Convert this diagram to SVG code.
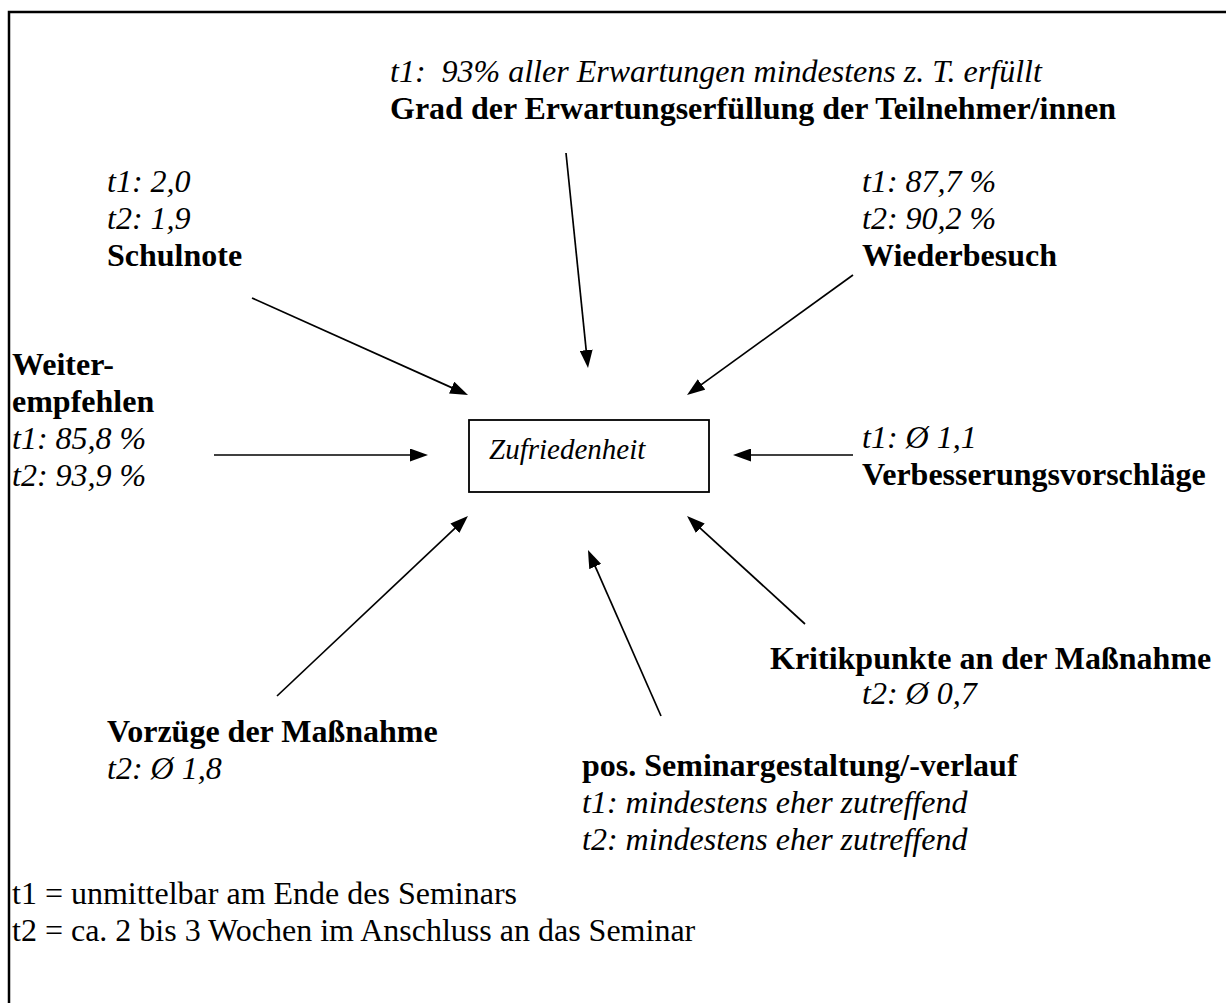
<svg xmlns="http://www.w3.org/2000/svg" width="1226" height="1003" viewBox="0 0 1226 1003">
<style>
text{font-family:"Liberation Serif","Times New Roman",serif;font-size:32px;fill:#000}
.i{font-style:italic}
.b{font-weight:bold}
.c{stroke:#000;stroke-width:1.7;fill:none}
</style>
<defs>
<marker id="ah" viewBox="0 0 18 13" refX="8" refY="6.5" markerWidth="18" markerHeight="13" markerUnits="userSpaceOnUse" orient="auto">
<path d="M0,0 L18,6.5 L0,13 z" fill="#000"/>
</marker>
</defs>
<rect width="1226" height="1003" fill="#fff"/>
<path d="M9,1003 V12 H1226" stroke="#000" stroke-width="2.5" fill="none"/>

<g id="zufriedenheit">
<rect x="469" y="420" width="240" height="72" fill="#fff" stroke="#000" stroke-width="1.8"/>
<text class="i" x="489" y="459" style="font-size:29px">Zufriedenheit</text>
</g>

<g id="grad">
<text class="i" x="390" y="82">t1: &#160;93% aller Erwartungen mindestens z. T. erfüllt</text>
<text class="b" x="390" y="119">Grad der Erwartungserfüllung der Teilnehmer/innen</text>
</g>

<g id="schulnote">
<text class="i" x="107" y="192">t1: 2,0</text>
<text class="i" x="107" y="229">t2: 1,9</text>
<text class="b" x="107" y="266">Schulnote</text>
</g>

<g id="wiederbesuch">
<text class="i" x="862" y="192">t1: 87,7 %</text>
<text class="i" x="862" y="229">t2: 90,2 %</text>
<text class="b" x="862" y="266">Wiederbesuch</text>
</g>

<g id="weiterempfehlen">
<text class="b" x="12" y="375">Weiter-</text>
<text class="b" x="12" y="412">empfehlen</text>
<text class="i" x="12" y="449">t1: 85,8 %</text>
<text class="i" x="12" y="486">t2: 93,9 %</text>
</g>

<g id="verbesserung">
<text class="i" x="862" y="448">t1: Ø 1,1</text>
<text class="b" x="862" y="485">Verbesserungsvorschläge</text>
</g>

<g id="kritik">
<text class="b" x="770" y="669">Kritikpunkte an der Maßnahme</text>
<text class="i" x="862" y="704">t2: Ø 0,7</text>
</g>

<g id="vorzuege">
<text class="b" x="107" y="742">Vorzüge der Maßnahme</text>
<text class="i" x="107" y="779">t2: Ø 1,8</text>
</g>

<g id="seminar">
<text class="b" x="582" y="776">pos. Seminargestaltung/-verlauf</text>
<text class="i" x="582" y="813">t1: mindestens eher zutreffend</text>
<text class="i" x="582" y="850">t2: mindestens eher zutreffend</text>
</g>

<g id="legende">
<text x="12" y="904">t1 = unmittelbar am Ende des Seminars</text>
<text x="12" y="941">t2 = ca. 2 bis 3 Wochen im Anschluss an das Seminar</text>
</g>

<g id="connectors">
<line class="c" x1="566" y1="153" x2="587" y2="358.1" marker-end="url(#ah)"/>
<line class="c" x1="252" y1="298" x2="458.9" y2="390.9" marker-end="url(#ah)"/>
<line class="c" x1="853" y1="275" x2="695.1" y2="389.1" marker-end="url(#ah)"/>
<line class="c" x1="214" y1="455" x2="418" y2="455" marker-end="url(#ah)"/>
<line class="c" x1="853" y1="455" x2="743" y2="455" marker-end="url(#ah)"/>
<line class="c" x1="277" y1="696" x2="460.7" y2="522.8" marker-end="url(#ah)"/>
<line class="c" x1="661" y1="716" x2="592" y2="559.2" marker-end="url(#ah)"/>
<line class="c" x1="805" y1="624" x2="694.4" y2="522.8" marker-end="url(#ah)"/>
</g>
</svg>
